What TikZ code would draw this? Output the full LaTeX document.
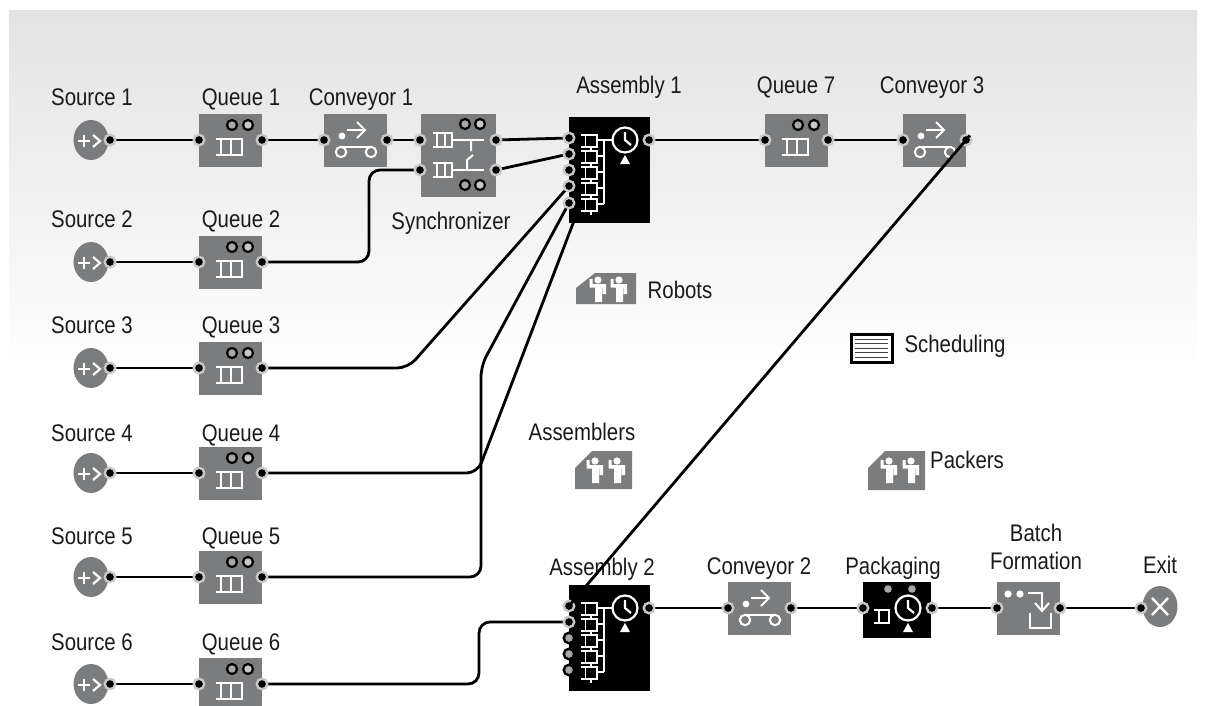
\documentclass[tikz,border=0pt]{standalone}
\usepackage{fontspec}
\setmainfont{Liberation Sans}[FakeStretch=0.85]
\usetikzlibrary{shapes.geometric}
\definecolor{boxgray}{HTML}{7B7C7E}
\definecolor{ringgray}{HTML}{C8C8C8}
\definecolor{dotA}{HTML}{A8A8A8}
\definecolor{dotB}{HTML}{C8C8C8}
\definecolor{lbl}{HTML}{1A1A1A}
\pgfdeclarelayer{wires}
\pgfdeclarelayer{over}
\pgfsetlayers{wires,main,over}
\tikzset{
  x=1pt,y=-1pt,
  wire/.style={draw=black,line width=2.8pt,rounded corners=11pt},
  port/.style={circle,fill=black,draw=ringgray,line width=2.4pt,inner sep=0pt,minimum size=10.5pt},
  freeport/.style={circle,fill=dotA,draw=black,line width=2.4pt,inner sep=0pt,minimum size=10.5pt},
  graybox/.style={rectangle,fill=boxgray,inner sep=0pt,anchor=north west,minimum height=53pt,minimum width=63pt},
  blackbox/.style={rectangle,fill=black,inner sep=0pt,anchor=north west},
  sym/.style={draw=white,line width=2pt},
  thinsym/.style={draw=white,line width=1.7pt},
  lab/.style={anchor=base,inner sep=0pt,text=lbl,font=\fontsize{24}{26}\selectfont},
  ov/.style={circle,draw=black,line width=2.2pt,inner sep=0pt,minimum size=10pt},
}
% source: name, port-y
\newcommand{\srcblock}[2]{%
  \node[ellipse,fill=boxgray,inner sep=0pt,minimum width=35pt,minimum height=40pt] (#1) at (91,#2) {};
  \draw[sym,line width=2.2pt] (78,#2+1) -- (90,#2+1) (84,#2-5) -- (84,#2+7);
  \draw[sym,line width=2.2pt] (93,#2-5) -- (100,#2+1) -- (93,#2+7);
  \node[port] (#1o) at (110,#2) {};
}
\newcommand{\queuesym}[2]{%
  \draw[sym] (#1,#2) -- (#1+27,#2) (#1,#2+16) -- (#1+27,#2+16)
    (#1+4.5,#2) -- (#1+4.5,#2+16) (#1+15,#2) -- (#1+15,#2+16) (#1+26,#2) -- (#1+26,#2+16);
}
% queue: name, x, y(top)
\newcommand{\queueblock}[3]{%
  \node[graybox] (#1) at (#2,#3) {};
  \node[ov,fill=dotA] (#1a) at (#2+33,#3+11) {};
  \node[ov,fill=dotB] (#1b) at (#2+49,#3+11) {};
  \queuesym{#2+17}{#3+25}
  \node[port] (#1i) at (#2,#3+26) {};
  \node[port] (#1o) at (#2+63,#3+26) {};
}
% conveyor
\newcommand{\convblock}[3]{%
  \node[graybox] (#1) at (#2,#3) {};
  \fill[white] (#2+18,#3+22) circle (3.4);
  \draw[sym] (#2+23,#3+16) -- (#2+41,#3+16);
  \draw[sym] (#2+33,#3+8) -- (#2+41,#3+16) -- (#2+33,#3+24);
  \draw[sym] (#2+17,#3+33) -- (#2+47,#3+33);
  \draw[sym] (#2+17,#3+38) circle (5.2) (#2+47,#3+38) circle (5.2);
  \node[port] (#1i) at (#2,#3+26) {};
  \node[port] (#1o) at (#2+63,#3+26) {};
}
% clock: x,y
\newcommand{\clocksym}[2]{%
  \draw[draw=white,fill=black,line width=2.2pt] (#1,#2) circle (12.5);
  \draw[draw=white,line width=2.2pt] (#1,#2-8) -- (#1,#2) -- (#1+6,#2+5);
  \fill[white] (#1-5,#2+28-4) -- (#1+5,#2+28-4) -- (#1,#2+28-13) -- cycle;
}
% assembly: name, top
\newcommand{\asmblock}[2]{%
  \node[blackbox,minimum width=81pt,minimum height=106pt] (#1) at (569,#2) {};
  \foreach \r in {0,1,2,3,4}{
    \draw[thinsym] (581,#2+18+\r*16) -- (597,#2+18+\r*16) -- (597,#2+30+\r*16) -- (581,#2+30+\r*16)
      (585.5,#2+18+\r*16) -- (585.5,#2+30+\r*16)
      (597,#2+23+\r*16) -- (604,#2+23+\r*16)
      (591,#2+30+\r*16) -- (591,#2+34+\r*16);
  }
  \draw[thinsym] (604,#2+23) -- (604,#2+87) (597,#2+23) -- (613,#2+23);
  \clocksym{625}{#2+23}
  \node[port] (#1r) at (649,#2+23) {};
}
\newcommand{\personsym}[2]{%
  \fill[white] (#1,#2) circle (3.6);
  \fill[white] (#1-8.5,#2-1) rectangle (#1-5.5,#2+6)
     (#1-8.5,#2+4) rectangle (#1+8,#2+7.5)
     (#1+4.6,#2+4) rectangle (#1+8,#2+14)
     (#1-2.8,#2+4) rectangle (#1+4,#2+22);
}
\begin{document}
\begin{tikzpicture}
\useasboundingbox (0,0) rectangle (1207,705);
\begin{pgfonlayer}{wires}
  \shade[top color=black!11,bottom color=white] (9,10) rectangle (1197,378);
\end{pgfonlayer}

% left column
\srcblock{s1}{140}\srcblock{s2}{262}\srcblock{s3}{368}\srcblock{s4}{473}\srcblock{s5}{577}\srcblock{s6}{684}
\queueblock{q1}{199}{114}
\queueblock{q2}{199}{236}
\queueblock{q3}{199}{342}
\queueblock{q4}{199}{447}
\queueblock{q5}{199}{551}
\queueblock{q6}{199}{658}
\convblock{c1}{324}{114}

% synchronizer
\node[graybox,minimum width=75pt,minimum height=83pt] (sy) at (421,114) {};
\node[ov,fill=dotA] (sya) at (465,124) {};
\node[ov,fill=dotB] (syb) at (480,124) {};
\node[ov,fill=dotA] (syc) at (465,185) {};
\node[ov,fill=dotB] (syd) at (480,185) {};
\draw[sym] (433,133) -- (453,133) (433,147) -- (453,147) (437,133) -- (437,147) (445,133) -- (445,147) (452,133) -- (452,147);
\draw[sym] (433,163) -- (453,163) (433,177) -- (453,177) (437,163) -- (437,177) (445,163) -- (445,177) (452,163) -- (452,177);
\draw[sym] (452,140) -- (484,140) (452,170) -- (484,170);
\draw[sym] (471,140) -- (471,151) (467,170) -- (467,160) -- (473,155);
\node[port] (syi1) at (420,140) {};
\node[port] (syi2) at (420,170) {};
\node[port] (syo1) at (496,140) {};
\node[port] (syo2) at (496,170) {};

% assembly 1
\asmblock{a}{117}
\node[port] (ap1) at (569,138) {};
\node[port] (ap2) at (569,154) {};
\node[port] (ap3) at (569,170) {};
\node[port] (ap4) at (569,186) {};
\node[port] (ap5) at (569,203) {};

\queueblock{q7}{765}{114}
\convblock{c3}{903}{114}

% assembly 2
\asmblock{b}{585}
\node[port] (bp1) at (569,606) {};
\node[port] (bp2) at (569,622) {};
\node[freeport] (bp3) at (569,638) {};
\node[freeport] (bp4) at (569,654) {};
\node[freeport] (bp5) at (569,670) {};

\convblock{c2}{728}{582}

% packaging
\node[blackbox,minimum width=68pt,minimum height=56pt] (pk) at (863,582) {};
\fill[dotA] (888,589) circle (3.8) (912,589) circle (3.8);
\draw[sym] (874,610) -- (889,610) -- (889,623) -- (874,623) (879,610) -- (879,623);
\clocksym{908}{608}
\node[port] (pki) at (863,608) {};
\node[port] (pko) at (932,608) {};

% batch formation
\node[graybox] (bf) at (997,582) {};
\fill[white] (1008,594) circle (3.6) (1020,594) circle (3.6);
\draw[sym] (1028,593) -- (1042,593) -- (1042,611);
\draw[sym] (1035,603) -- (1042,611) -- (1049,603);
\draw[sym] (1030,613) -- (1030,628) -- (1051,628) -- (1051,613);
\node[port] (bfi) at (997,608) {};
\node[port] (bfo) at (1060,608) {};

% exit
\node[ellipse,fill=boxgray,inner sep=0pt,minimum width=35pt,minimum height=41pt] (ex) at (1160,606.5) {};
\draw[draw=white,line width=2.4pt] (1152,598) -- (1168,615) (1168,598) -- (1152,615);
\node[port] (exi) at (1141,608) {};

% wires
\begin{pgfonlayer}{wires}
  \draw[wire] (s1o.center) -- (q1i.center);
  \draw[wire] (s2o.center) -- (q2i.center);
  \draw[wire] (s3o.center) -- (q3i.center);
  \draw[wire] (s4o.center) -- (q4i.center);
  \draw[wire] (s5o.center) -- (q5i.center);
  \draw[wire] (s6o.center) -- (q6i.center);
  \draw[wire] (q1o.center) -- (c1i.center);
  \draw[wire] (c1o.center) -- (syi1.center);
  \draw[wire] (q2o.center) -- (369,262) -- (369,170) -- (syi2.center);
  \draw[wire] (syo1.center) -- (ap1.center);
  \draw[wire] (syo2.center) -- (ap2.center);
  \draw[wire] (q3o.center) -- (408,368) -- (ap4.center);
  \draw[wire] (q4o.center) -- (477.5,473) -- (582,200) -- (ap3.center);
  \draw[wire] (q5o.center) -- (481,577) -- (481,366) -- (ap5.center);
  \draw[wire] (ar.center) -- (q7i.center);
  \draw[wire] (q7o.center) -- (c3i.center);
  \draw[wire] (q6o.center) -- (479,684) -- (479,622) -- (bp2.center);
  \draw[wire] (br.center) -- (c2i.center);
  \draw[wire] (c2o.center) -- (pki.center);
  \draw[wire] (pko.center) -- (bfi.center);
  \draw[wire] (bfo.center) -- (exi.center);
\end{pgfonlayer}
\begin{pgfonlayer}{over}
  \draw[wire,shorten <=-6pt] (c3o.center) -- (bp1.center);
\end{pgfonlayer}

% resource icons
\fill[boxgray] (576,288) -- (595,273) -- (636,273) -- (636,304) -- (576,304) -- cycle;
\personsym{598}{280}\personsym{619}{280}
\fill[boxgray] (575,468) -- (592,451) -- (632,451) -- (632,489) -- (575,489) -- cycle;
\personsym{595}{461}\personsym{617}{461}
\fill[boxgray] (868,468) -- (885,451) -- (925,451) -- (925,490) -- (868,490) -- cycle;
\personsym{889}{461}\personsym{911}{461}
\node[rectangle,draw=black,fill=white,line width=3pt,inner sep=0pt,minimum width=41pt,minimum height=28pt] (sch) at (871.5,348) {};
\draw[draw=black!75,line width=1pt] (855,339) -- (888,339) (855,343.5) -- (888,343.5) (855,348) -- (888,348) (855,352.5) -- (888,352.5) (855,357) -- (888,357);

% labels
\node[lab] (l1) at (92,105) {Source 1};
\node[lab] (l2) at (241,105) {Queue 1};
\node[lab] (l3) at (361,105) {Conveyor 1};
\node[lab] (l4) at (92,227) {Source 2};
\node[lab] (l5) at (241,227) {Queue 2};
\node[lab] (l6) at (92,333) {Source 3};
\node[lab] (l7) at (241,333) {Queue 3};
\node[lab] (l8) at (92,441) {Source 4};
\node[lab] (l9) at (241,441) {Queue 4};
\node[lab] (l10) at (92,544) {Source 5};
\node[lab] (l11) at (241,544) {Queue 5};
\node[lab] (l12) at (92,650) {Source 6};
\node[lab] (l13) at (241,650) {Queue 6};
\node[lab] (l14) at (451,229) {Synchronizer};
\node[lab] (l15) at (629,93) {Assembly 1};
\node[lab] (l16) at (796,93) {Queue 7};
\node[lab] (l17) at (932,93) {Conveyor 3};
\node[lab] (l18) at (602,575) {Assembly 2};
\node[lab] (l19) at (759,574) {Conveyor 2};
\node[lab] (l20) at (893,574) {Packaging};
\node[lab] (l21) at (1036,541) {Batch};
\node[lab] (l22) at (1036,569) {Formation};
\node[lab] (l23) at (1160,573) {Exit};
\node[lab] (l24) at (680,298) {Robots};
\node[lab] (l25) at (582,440) {Assemblers};
\node[lab] (l26) at (955,352) {Scheduling};
\node[lab] (l27) at (967,468) {Packers};
\end{tikzpicture}
\end{document}
